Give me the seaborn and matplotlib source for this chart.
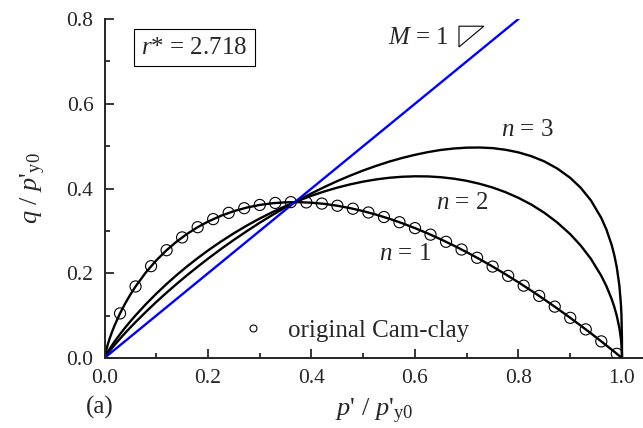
import matplotlib
matplotlib.use("Agg")
import matplotlib.pyplot as plt
from matplotlib.patches import Polygon
from matplotlib.lines import Line2D
from matplotlib.ticker import FormatStrFormatter
import seaborn as sns
import pandas as pd

# Normalised mean stress p'/p'y0 at which the yield surfaces are sampled
p_ratio = [0.0, 0.001, 0.003, 0.006, 0.01, 0.015, 0.02, 0.03, 0.04, 0.05,
           0.06, 0.08, 0.10, 0.12, 0.14, 0.16, 0.18, 0.20, 0.225, 0.25,
           0.275, 0.30, 0.325, 0.35, 0.375, 0.40, 0.425, 0.45, 0.475, 0.50,
           0.525, 0.55, 0.575, 0.60, 0.625, 0.65, 0.675, 0.70, 0.725, 0.75,
           0.775, 0.80, 0.825, 0.85, 0.875, 0.90, 0.92, 0.94, 0.96, 0.97,
           0.98, 0.985, 0.99, 0.995, 0.998, 0.999, 0.9999, 1.0]

# Deviatoric stress q/p'y0 for shape parameter n = 1, 2, 3
q_n1 = [0.0, 0.0069, 0.0174, 0.0307, 0.0461, 0.0630, 0.0782, 0.1052, 0.1288,
        0.1498, 0.1688, 0.2021, 0.2303, 0.2544, 0.2753, 0.2932, 0.3087,
        0.3219, 0.3356, 0.3466, 0.3550, 0.3612, 0.3653, 0.3674, 0.3678,
        0.3665, 0.3637, 0.3593, 0.3536, 0.3466, 0.3383, 0.3288, 0.3182,
        0.3065, 0.2938, 0.2800, 0.2653, 0.2497, 0.2332, 0.2158, 0.1975,
        0.1785, 0.1587, 0.1381, 0.1168, 0.0948, 0.0767, 0.0582, 0.0392,
        0.0295, 0.0198, 0.0149, 0.0099, 0.0050, 0.0020, 0.0010, 0.0001, 0.0]
q_n2 = [0.0, 0.0026, 0.0072, 0.0136, 0.0215, 0.0307, 0.0396, 0.0562, 0.0718,
        0.0865, 0.1006, 0.1271, 0.1517, 0.1747, 0.1963, 0.2166, 0.2357,
        0.2537, 0.2748, 0.2944, 0.3125, 0.3292, 0.3445, 0.3586, 0.3714,
        0.3829, 0.3931, 0.4021, 0.4098, 0.4163, 0.4214, 0.4253, 0.4277,
        0.4288, 0.4285, 0.4266, 0.4232, 0.4181, 0.4111, 0.4023, 0.3913,
        0.3779, 0.3619, 0.3427, 0.3197, 0.2922, 0.2657, 0.2339, 0.1939,
        0.1693, 0.1393, 0.1211, 0.0992, 0.0705, 0.0447, 0.0316, 0.0100, 0.0]
q_n3 = [0.0, 0.0019, 0.0054, 0.0103, 0.0166, 0.0242, 0.0315, 0.0456, 0.0591,
        0.0721, 0.0847, 0.1089, 0.1321, 0.1542, 0.1754, 0.1958, 0.2154,
        0.2344, 0.2571, 0.2787, 0.2994, 0.3192, 0.3379, 0.3557, 0.3726,
        0.3885, 0.4035, 0.4176, 0.4305, 0.4426, 0.4534, 0.4634, 0.4720,
        0.4795, 0.4859, 0.4910, 0.4944, 0.4964, 0.4967, 0.4953, 0.4914,
        0.4852, 0.4762, 0.4639, 0.4471, 0.4251, 0.4020, 0.3719, 0.3305,
        0.3029, 0.2669, 0.2435, 0.2136, 0.1703, 0.1257, 0.0999, 0.0464, 0.0]

# Original Cam-clay reference points
p_cc = [0.03, 0.06, 0.09, 0.12, 0.15, 0.18, 0.21, 0.24, 0.27, 0.30, 0.33,
        0.36, 0.39, 0.42, 0.45, 0.48, 0.51, 0.54, 0.57, 0.60, 0.63, 0.66,
        0.69, 0.72, 0.75, 0.78, 0.81, 0.84, 0.87, 0.90, 0.93, 0.96, 0.99]
q_cc = [0.1052, 0.1688, 0.2167, 0.2544, 0.2846, 0.3087, 0.3277, 0.3425,
        0.3535, 0.3612, 0.3659, 0.3678, 0.3672, 0.3644, 0.3593, 0.3523,
        0.3434, 0.3327, 0.3204, 0.3065, 0.2911, 0.2742, 0.2560, 0.2365,
        0.2158, 0.1938, 0.1707, 0.1465, 0.1212, 0.0948, 0.0675, 0.0392, 0.0099]

# Critical state line M = 1
p_csl = [0.0, 0.8]
q_csl = [0.0, 0.8]

sns.set_style("ticks")
plt.rcParams["font.family"] = ["Liberation Serif", "DejaVu Serif"]
plt.rcParams["mathtext.fontset"] = "custom"
plt.rcParams["mathtext.rm"] = "Liberation Serif"
plt.rcParams["mathtext.it"] = "Liberation Serif:italic"
plt.rcParams["mathtext.bf"] = "Liberation Serif:bold"

TICK_FS = 15.5
TEXT_FS = 18
LABEL_FS = 19
fig = plt.figure(figsize=(6.43, 4.28), dpi=100)
ax = fig.add_axes([104.5 / 643, 70 / 428, 1 - 104.5 / 643, 339 / 428])

curves = pd.DataFrame({
    "p": p_ratio * 3,
    "q": q_n1 + q_n2 + q_n3,
    "n": ["1"] * len(p_ratio) + ["2"] * len(p_ratio) + ["3"] * len(p_ratio),
})
sns.lineplot(data=curves, x="p", y="q", units="n", estimator=None, sort=False,
             color="black", lw=1.7, ax=ax, legend=False)
sns.lineplot(x=p_csl, y=q_csl, color="#0000ff", lw=1.7, ax=ax, legend=False)
sns.scatterplot(x=p_cc, y=q_cc, marker="o", s=64, facecolor="none",
                edgecolor="black", linewidth=0.8, ax=ax, legend=False, zorder=5)

ax.set_xlim(0, 1.0406)
ax.set_ylim(0, 0.8)
ax.set_xticks([0.0, 0.2, 0.4, 0.6, 0.8, 1.0])
ax.set_xticks([0.1, 0.3, 0.5, 0.7, 0.9], minor=True)
ax.set_yticks([0.0, 0.2, 0.4, 0.6, 0.8])
ax.set_yticks([0.1, 0.3, 0.5, 0.7], minor=True)
ax.xaxis.set_major_formatter(FormatStrFormatter("%.1f"))
ax.yaxis.set_major_formatter(FormatStrFormatter("%.1f"))
ax.tick_params(which="major", direction="in", length=6.5, width=1.3,
               labelsize=TICK_FS, pad=8)
ax.tick_params(which="minor", direction="in", length=3.5, width=1.3)
for side in ("top", "right"):
    ax.spines[side].set_visible(False)
for side in ("left", "bottom"):
    ax.spines[side].set_linewidth(1.4)

ax.set_xlabel(r"$p$' / $p$'$_{\mathrm{y0}}$", fontsize=LABEL_FS, labelpad=6)
ax.set_ylabel(r"$q$ / $p$'$_{\mathrm{y0}}$", fontsize=LABEL_FS, labelpad=13)

ax.text(0.174, 0.7316, r"$r$* = 2.718", fontsize=TEXT_FS, ha="center",
        va="center", bbox=dict(boxstyle="square,pad=0.3", fc="white",
                               ec="black", lw=0.8))
ax.text(0.6657, 0.7563, r"$M$ = 1", fontsize=TEXT_FS, ha="right", va="center")
ax.add_patch(Polygon([(0.685, 0.783), (0.733, 0.783), (0.685, 0.734)],
                     closed=True, fill=False, ec="black", lw=0.8))
ax.text(0.817, 0.538, r"$n$ = 3", fontsize=TEXT_FS, ha="center", va="center")
ax.text(0.692, 0.366, r"$n$ = 2", fontsize=TEXT_FS, ha="center", va="center")
ax.text(0.580, 0.2443, r"$n$ = 1", fontsize=TEXT_FS, ha="center", va="center")

handle = Line2D([], [], ls="none", marker="o", ms=5, mfc="none", mec="black",
                mew=0.8)
ax.legend([handle], ["original Cam-clay"], loc="center left",
          bbox_to_anchor=(0.2625, 0.08), frameon=False, fontsize=TEXT_FS,
          handlelength=0.6, handletextpad=1.1, borderaxespad=0,
          borderpad=0)

fig.text(100 / 643, 1 - 407 / 428, "(a)", fontsize=TEXT_FS, ha="center",
         va="center")

fig.savefig("out.png", dpi=100)
